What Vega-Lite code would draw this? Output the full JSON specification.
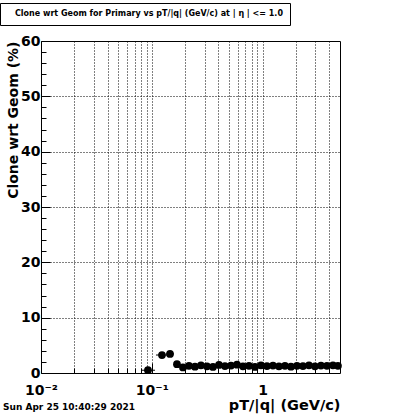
{
  "$schema": "https://vega.github.io/schema/vega-lite/v6.json",
  "width": 299,
  "height": 332,
  "autosize": "none",
  "padding": {"left": 41, "top": 41, "right": 60, "bottom": 41},
  "background": "white",
  "config": {
    "view": {"stroke": "black", "strokeWidth": 1},
    "font": "DejaVu Sans"
  },
  "title": {
    "text": "Sun Apr 25 10:40:29 2021",
    "orient": "bottom",
    "anchor": "start",
    "frame": "group",
    "dx": -38,
    "offset": -9,
    "font": "DejaVu Sans",
    "fontSize": 9,
    "fontWeight": "bold",
    "color": "black"
  },
  "data": {
    "values": [
      {"x": 0.0924, "xlo": 0.0816, "xhi": 0.1069, "v": 0.5},
      {"x": 0.1236, "xlo": 0.1091, "xhi": 0.1372, "v": 3.25},
      {"x": 0.146, "xlo": 0.1343, "xhi": 0.1586, "v": 3.45},
      {"x": 0.1688, "xlo": 0.1586, "xhi": 0.1796, "v": 1.6},
      {"x": 0.1912, "xlo": 0.1797, "xhi": 0.2034, "v": 1.0},
      {"x": 0.2166, "xlo": 0.2036, "xhi": 0.2305, "v": 1.3},
      {"x": 0.2454, "xlo": 0.2306, "xhi": 0.2611, "v": 1.15},
      {"x": 0.278, "xlo": 0.2613, "xhi": 0.2958, "v": 1.4},
      {"x": 0.3149, "xlo": 0.296, "xhi": 0.3351, "v": 1.2},
      {"x": 0.3567, "xlo": 0.3352, "xhi": 0.3795, "v": 1.1},
      {"x": 0.4041, "xlo": 0.3798, "xhi": 0.43, "v": 1.45},
      {"x": 0.4577, "xlo": 0.4302, "xhi": 0.487, "v": 1.25},
      {"x": 0.5186, "xlo": 0.4874, "xhi": 0.5518, "v": 1.35},
      {"x": 0.5875, "xlo": 0.5522, "xhi": 0.6251, "v": 1.5},
      {"x": 0.6654, "xlo": 0.6254, "xhi": 0.708, "v": 1.2},
      {"x": 0.7538, "xlo": 0.7085, "xhi": 0.802, "v": 1.3},
      {"x": 0.854, "xlo": 0.8026, "xhi": 0.9087, "v": 1.1},
      {"x": 0.9674, "xlo": 0.9092, "xhi": 1.0293, "v": 1.4},
      {"x": 1.0958, "xlo": 1.0299, "xhi": 1.1659, "v": 1.25},
      {"x": 1.2414, "xlo": 1.1667, "xhi": 1.3208, "v": 1.35},
      {"x": 1.406, "xlo": 1.3214, "xhi": 1.496, "v": 1.2},
      {"x": 1.5929, "xlo": 1.4971, "xhi": 1.6948, "v": 1.3},
      {"x": 1.8044, "xlo": 1.6959, "xhi": 1.9199, "v": 1.15},
      {"x": 2.0442, "xlo": 1.9212, "xhi": 2.175, "v": 1.3},
      {"x": 2.3156, "xlo": 2.1763, "xhi": 2.4638, "v": 1.25},
      {"x": 2.6234, "xlo": 2.4656, "xhi": 2.7913, "v": 1.4},
      {"x": 2.9717, "xlo": 2.793, "xhi": 3.1619, "v": 1.2},
      {"x": 3.3666, "xlo": 3.1641, "xhi": 3.5821, "v": 1.35},
      {"x": 3.8133, "xlo": 3.5839, "xhi": 4.0573, "v": 1.3},
      {"x": 4.3201, "xlo": 4.0603, "xhi": 4.5966, "v": 1.4},
      {"x": 4.792, "xlo": 4.5966, "xhi": 4.99, "v": 1.3}
    ]
  },
  "layer": [
    {
      "mark": {"type": "rule", "color": "black", "strokeWidth": 1},
      "encoding": {
        "x": {
          "field": "xlo",
          "type": "quantitative",
          "scale": {"type": "log", "domain": [0.01, 5], "nice": false},
          "axis": {
            "values": [0.01, 0.02, 0.03, 0.04, 0.05, 0.06, 0.07, 0.08, 0.09, 0.1, 0.2, 0.3, 0.4, 0.5, 0.6, 0.7, 0.8, 0.9, 1, 2, 3, 4],
            "tickCount": 100,
            "labelExpr": "abs(datum.value-0.01)<1e-9 ? '10⁻²' : abs(datum.value-0.1)<1e-9 ? '10⁻¹' : abs(datum.value-1)<1e-9 ? '1' : ''",
            "labelOverlap": false,
            "labelFlush": false,
            "labelFont": "DejaVu Sans",
            "labelFontWeight": "bold",
            "labelFontSize": 14,
            "labelColor": "black",
            "labelPadding": 20,
            "domain": false,
            "tickColor": "black",
            "tickSize": {"condition": {"test": "abs(datum.value-0.01)<1e-9 || abs(datum.value-0.1)<1e-9 || abs(datum.value-1)<1e-9", "value": -10}, "value": -5},
            "grid": true,
            "gridColor": "black",
            "gridDash": [1, 2],
            "gridWidth": 1,
            "gridOpacity": 1,
            "title": "pT/|q| (GeV/c)",
            "titleAnchor": "end",
            "titleFont": "DejaVu Sans",
            "titleFontWeight": "bold",
            "titleFontSize": 14.5,
            "titleColor": "black",
            "titlePadding": -4
          }
        },
        "x2": {"field": "xhi"},
        "y": {
          "field": "v",
          "type": "quantitative",
          "scale": {"domain": [0, 60], "nice": false},
          "axis": {
            "values": [0, 2, 4, 6, 8, 10, 12, 14, 16, 18, 20, 22, 24, 26, 28, 30, 32, 34, 36, 38, 40, 42, 44, 46, 48, 50, 52, 54, 56, 58, 60],
            "tickCount": 100,
            "format": "d",
            "labelExpr": "datum.value % 10 == 0 ? format(datum.value, 'd') : ''",
            "labelOverlap": false,
            "labelFlush": false,
            "labelFont": "DejaVu Sans",
            "labelFontWeight": "bold",
            "labelFontSize": 14,
            "labelColor": "black",
            "labelPadding": 10,
            "domain": false,
            "tickColor": "black",
            "tickSize": {"condition": {"test": "datum.value % 10 == 0", "value": -9}, "value": -5},
            "grid": true,
            "gridColor": "black",
            "gridDash": [1, 2],
            "gridWidth": 1,
            "gridOpacity": {"condition": {"test": "datum.value % 10 == 0 && datum.value > 0 && datum.value < 60", "value": 1}, "value": 0},
            "title": "Clone wrt Geom (%)",
            "titleAnchor": "end",
            "titleFont": "DejaVu Sans",
            "titleFontWeight": "bold",
            "titleFontSize": 14,
            "titleColor": "black",
            "titlePadding": 0
          }
        }
      }
    },
    {
      "mark": {"type": "point", "filled": true, "shape": "circle", "size": 60, "opacity": 1},
      "encoding": {
        "x": {"field": "x", "type": "quantitative"},
        "y": {"field": "v", "type": "quantitative"},
        "color": {
          "datum": "Clone wrt Geom for Primary vs pT/|q| (GeV/c) at | η | <= 1.0",
          "type": "nominal",
          "scale": {"range": ["black"]},
          "legend": {
            "title": null,
            "orient": "none",
            "legendX": -41,
            "legendY": -38,
            "strokeColor": "black",
            "fillColor": "white",
            "padding": 7,
            "symbolSize": 0,
            "symbolStrokeWidth": 0,
            "symbolOpacity": 0,
            "labelOffset": 0,
            "labelLimit": 400,
            "labelFont": "DejaVu Sans",
            "labelFontWeight": "bold",
            "labelFontSize": 8,
            "labelColor": "black"
          }
        }
      }
    }
  ]
}
